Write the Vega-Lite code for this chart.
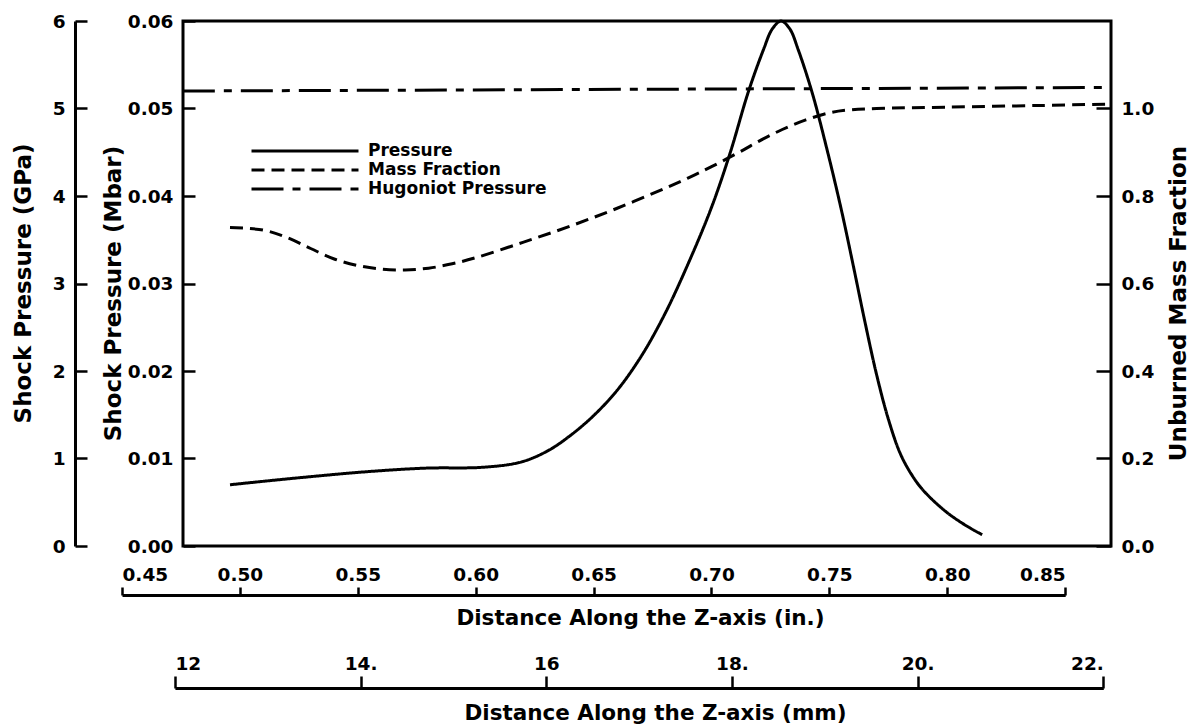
{
  "$schema": "https://vega.github.io/schema/vega-lite/v6.json",
  "width": 928,
  "height": 525,
  "autosize": {"type": "none"},
  "padding": {"left": 183, "top": 21, "right": 82, "bottom": 181},
  "background": "white",
  "config": {
    "view": {"stroke": "black", "strokeWidth": 3},
    "font": "DejaVu Sans",
    "axis": {
      "grid": false,
      "labelFont": "DejaVu Sans", "labelFontWeight": "bold", "labelFontSize": 18.5, "labelColor": "black",
      "titleFont": "DejaVu Sans", "titleFontWeight": "bold", "titleFontSize": 21.5, "titleColor": "black",
      "domainColor": "black", "domainWidth": 3, "tickColor": "black", "tickWidth": 2.5
    },
    "legend": {
      "labelFont": "DejaVu Sans", "labelFontWeight": "bold", "labelFontSize": 17, "labelColor": "black", "labelLimit": 400
    }
  },
  "datasets": {
    "pressure": [
      {"x": 0.4958, "p": 0.0070},
      {"x": 0.5251, "p": 0.0078},
      {"x": 0.5543, "p": 0.0085},
      {"x": 0.579, "p": 0.0089},
      {"x": 0.6031, "p": 0.0090},
      {"x": 0.6193, "p": 0.0096},
      {"x": 0.6307, "p": 0.0109},
      {"x": 0.64, "p": 0.0126},
      {"x": 0.65, "p": 0.0149},
      {"x": 0.66, "p": 0.0178},
      {"x": 0.67, "p": 0.0216},
      {"x": 0.68, "p": 0.0264},
      {"x": 0.69, "p": 0.0322},
      {"x": 0.70, "p": 0.0387},
      {"x": 0.708, "p": 0.0450},
      {"x": 0.7155, "p": 0.0518},
      {"x": 0.722, "p": 0.0567},
      {"x": 0.7258, "p": 0.0591},
      {"x": 0.7295, "p": 0.0600},
      {"x": 0.7332, "p": 0.0591},
      {"x": 0.7368, "p": 0.0567},
      {"x": 0.7427, "p": 0.0518},
      {"x": 0.749, "p": 0.0453},
      {"x": 0.755, "p": 0.0385},
      {"x": 0.76, "p": 0.0322},
      {"x": 0.765, "p": 0.0257},
      {"x": 0.77, "p": 0.0196},
      {"x": 0.775, "p": 0.0145},
      {"x": 0.78, "p": 0.0106},
      {"x": 0.785, "p": 0.0081},
      {"x": 0.79, "p": 0.0063},
      {"x": 0.80, "p": 0.0038},
      {"x": 0.81, "p": 0.0020},
      {"x": 0.8148, "p": 0.0013}
    ],
    "mass": [
      {"x": 0.4958, "f": 0.728},
      {"x": 0.51, "f": 0.722},
      {"x": 0.52, "f": 0.705},
      {"x": 0.53, "f": 0.680},
      {"x": 0.54, "f": 0.656},
      {"x": 0.55, "f": 0.641},
      {"x": 0.56, "f": 0.633},
      {"x": 0.57, "f": 0.631},
      {"x": 0.58, "f": 0.635},
      {"x": 0.59, "f": 0.645},
      {"x": 0.60, "f": 0.659},
      {"x": 0.62, "f": 0.694},
      {"x": 0.64, "f": 0.731},
      {"x": 0.66, "f": 0.772},
      {"x": 0.68, "f": 0.817},
      {"x": 0.69, "f": 0.841},
      {"x": 0.70, "f": 0.867},
      {"x": 0.7134, "f": 0.905},
      {"x": 0.72, "f": 0.925},
      {"x": 0.73, "f": 0.952},
      {"x": 0.74, "f": 0.974},
      {"x": 0.75, "f": 0.990},
      {"x": 0.7588, "f": 0.997},
      {"x": 0.77, "f": 1.000},
      {"x": 0.80, "f": 1.003},
      {"x": 0.84, "f": 1.007},
      {"x": 0.8694, "f": 1.010}
    ],
    "hugoniot": [
      {"x": 0.4758, "p": 0.0520},
      {"x": 0.8694, "p": 0.0524}
    ]
  },
  "layer": [
    {
      "data": {"name": "pressure"},
      "mark": {"type": "line", "stroke": "black", "strokeWidth": 3, "interpolate": "catmull-rom"},
      "encoding": {
        "x": {
          "field": "x", "type": "quantitative",
          "scale": {"domain": [0.45, 0.85], "range": [-61, 882.2], "nice": false, "zero": false},
          "axis": {
            "orient": "top", "offset": -574,
            "values": [0.45, 0.5, 0.55, 0.6, 0.65, 0.7, 0.75, 0.8, 0.85],
            "format": ".2f", "tickSize": 8, "labelPadding": 3,
            "title": "Distance Along the Z-axis (in.)",
            "titleX": 457, "titleY": 23, "titleBaseline": "middle"
          }
        },
        "y": {
          "field": "p", "type": "quantitative",
          "scale": {"domain": [0, 0.06], "nice": false, "zero": true},
          "axis": {
            "orient": "left",
            "values": [0, 0.01, 0.02, 0.03, 0.04, 0.05, 0.06],
            "format": ".2f", "domain": false, "tickSize": -12, "labelPadding": 22,
            "title": "Shock Pressure (Mbar)", "titleFontSize": 23,
            "titleAngle": -90, "titleX": -70, "titleY": 272, "titleBaseline": "middle"
          }
        },
        "strokeDash": {
          "datum": "Pressure", "type": "nominal",
          "scale": {
            "domain": ["Pressure", "Mass Fraction", "Hugoniot Pressure"],
            "range": [[1, 0], [13, 7], [32, 9, 8, 9]]
          },
          "legend": {
            "orient": "none", "legendX": 67, "legendY": 121, "title": null,
            "symbolType": "stroke", "symbolSize": 11449, "symbolStrokeWidth": 3,
            "symbolStrokeColor": "black", "clipHeight": 18, "rowPadding": 1,
            "labelOffset": 8, "labelLimit": 400
          }
        }
      }
    },
    {
      "data": {"name": "mass"},
      "mark": {"type": "line", "stroke": "black", "strokeWidth": 3, "interpolate": "catmull-rom"},
      "encoding": {
        "x": {
          "field": "x", "type": "quantitative",
          "scale": {"domain": [0.472441, 0.866142], "range": [-8.08, 920.3], "nice": false, "zero": false},
          "axis": {
            "orient": "top", "offset": -667,
            "values": [0.472441, 0.551181, 0.629921, 0.708661, 0.787402, 0.866142],
            "labelExpr": "(round(datum.value*25.4) == 12 || round(datum.value*25.4) == 16) ? format(round(datum.value*25.4), 'd') : format(round(datum.value*25.4), 'd') + '.'",
            "tickSize": 12, "labelPadding": 3,
            "title": "Distance Along the Z-axis (mm)",
            "titleX": 472, "titleY": 25, "titleBaseline": "middle"
          }
        },
        "y": {
          "field": "f", "type": "quantitative",
          "scale": {"domain": [0, 1.2], "nice": false, "zero": true},
          "axis": {
            "orient": "right",
            "values": [0, 0.2, 0.4, 0.6, 0.8, 1.0],
            "format": ".1f", "domain": false, "tickSize": -15, "labelPadding": 25,
            "title": "Unburned Mass Fraction", "titleFontSize": 23,
            "titleAngle": -90, "titleX": 67, "titleY": 282, "titleBaseline": "middle"
          }
        },
        "strokeDash": {"datum": "Mass Fraction", "type": "nominal"}
      }
    },
    {
      "data": {"name": "hugoniot"},
      "mark": {"type": "line", "stroke": "black", "strokeWidth": 3},
      "encoding": {
        "x": {
          "field": "x", "type": "quantitative",
          "scale": {"domain": [0.45, 0.85], "range": [-61, 882.2], "nice": false, "zero": false},
          "axis": null
        },
        "y": {
          "field": "p", "type": "quantitative",
          "scale": {"domain": [0, 0.06], "nice": false, "zero": true},
          "axis": {
            "orient": "left", "offset": 108,
            "values": [0, 0.01, 0.02, 0.03, 0.04, 0.05, 0.06],
            "labelExpr": "format(round(datum.value*100), 'd')",
            "domain": true, "tickSize": -12, "labelPadding": 22,
            "title": "Shock Pressure (GPa)", "titleFontSize": 23,
            "titleAngle": -90, "titleX": -52, "titleY": 262, "titleBaseline": "middle"
          }
        },
        "strokeDash": {"datum": "Hugoniot Pressure", "type": "nominal"}
      }
    }
  ],
  "resolve": {"scale": {"x": "independent", "y": "independent"}}
}
